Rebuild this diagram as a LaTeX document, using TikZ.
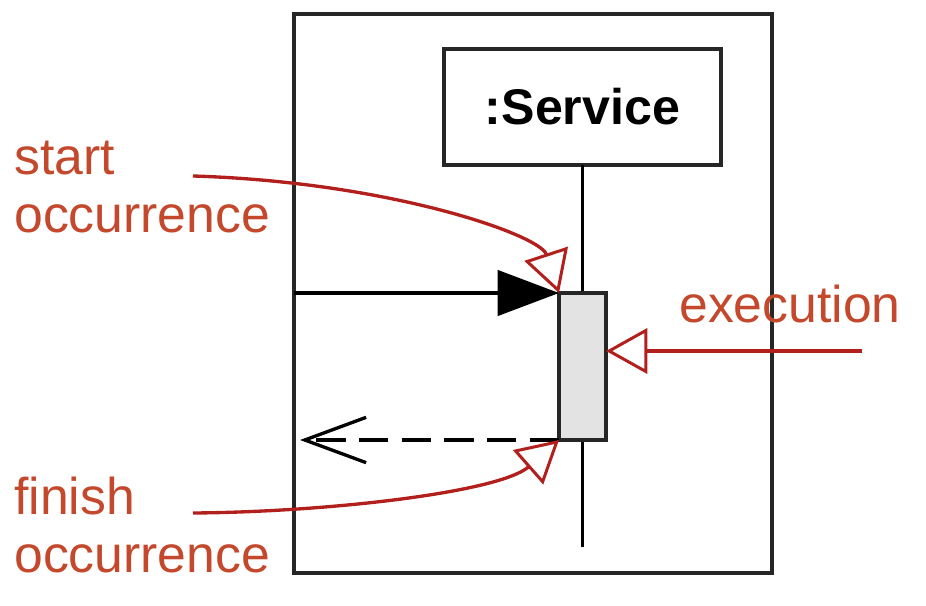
\documentclass[tikz,border=0pt]{standalone}
\usepackage{fontspec}
\setmainfont{Liberation Sans}
\usetikzlibrary{arrows.meta}
\definecolor{notered}{RGB}{196,72,44}
\definecolor{linered}{RGB}{178,32,30}
\begin{document}
\begin{tikzpicture}[x=0.75pt,y=0.75pt,yscale=-1,xscale=1,
    box/.style={draw=black!85, line width=2.5pt, inner sep=0pt, outer sep=0pt},
    note/.style={text=notered, inner sep=0pt, align=left,
      font=\fontsize{38.8}{43.5}\selectfont},
    pointer/.style={draw=linered, line width=2.5pt,
      -{Triangle[open, length=31pt, width=34pt, line width=2.25pt]}},
    msg/.style={line width=2.5pt, -{Triangle[length=46pt, width=34pt]}},
    reply/.style={line width=2.5pt, dash pattern=on 22pt off 10pt,
      -{Straight Barb[length=46pt, width=34pt, line width=2.5pt]}}]
    \useasboundingbox (0,0) rectangle (926,606);
    %Shape: Frame
    \node[box, minimum width=358.5pt, minimum height=419.25pt] (frame) at (533,293.5) {};
    %Shape: Lifeline head
    \node[box, minimum width=207.75pt, minimum height=87pt,
      font=\fontsize{37.6}{44}\selectfont\bfseries] (service) at (582.5,107) {:Service};
    \coordinate (lifeEnd) at (582.5,547);
    \draw[line width=2.5pt] (service.south) -- (lifeEnd);
    %Shape: Execution
    \node[box, fill=black!11, minimum width=35.25pt, minimum height=110.25pt] (exec) at (582.5,366.5) {};
    %Straight Lines: call and return
    \draw[msg] (frame.west |- exec.north west) -- (exec.north west);
    \draw[reply] (exec.south west) -- ([xshift=4.5pt]frame.west |- exec.south west);

    % Text Node
    \node[note, anchor=base west] (startNote) at (14,233) {start\\occurrence};
    % Text Node
    \node[note, anchor=base west] (finishNote) at (14,572) {finish\\occurrence};
    % Text Node
    \node[note, anchor=base west] (execNote) at (679,323) {execution};

    \coordinate (startFrom) at (193,176);
    \coordinate (finishFrom) at (193,513);
    \coordinate (execFrom) at (862,351);
    %Curve Lines
    \draw[pointer] (startFrom) .. controls (390,182) and (540,235) .. (exec.north west);
    \draw[pointer] (finishFrom) .. controls (330,512) and (500,492) .. (exec.south west);
    %Straight Lines
    \draw[pointer] (execFrom) -- (exec.east |- execFrom);
\end{tikzpicture}
\end{document}
